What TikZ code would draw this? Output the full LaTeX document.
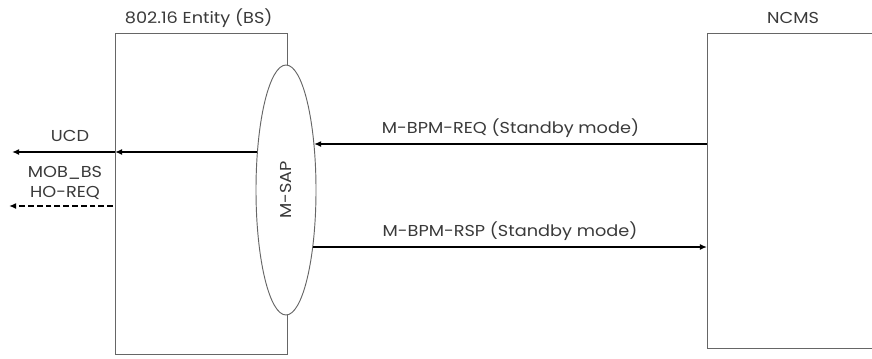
\documentclass[tikz,border=0pt]{standalone}
\usepackage{fontspec}
\setmainfont[FakeStretch=1.12]{Poppins}
\usetikzlibrary{arrows.meta,positioning,shapes.geometric,calc}
\definecolor{txtgray}{HTML}{3A3A3A}
\definecolor{boxgray}{HTML}{666666}
\tikzset{
	entity/.style={draw=boxgray,line width=0.8pt,rectangle,inner sep=0pt,outer sep=0pt},
	sap/.style={ellipse,draw=boxgray,line width=0.8pt,fill=white,inner sep=0pt,outer sep=0pt},
	lbl/.style={text=txtgray,font=\fontsize{13.5}{17}\selectfont,inner sep=1pt},
	msg/.style={draw=black,line width=1.4pt,-{Latex[length=6pt,width=5pt]}},
	msgdash/.style={msg,dash pattern=on 5pt off 2.5pt}
}

\begin{document}
\begin{tikzpicture}[x=0.03cm,y=-0.03cm,node distance=1 and 1]
      \path[use as bounding box,clip] (0,0) rectangle (872,358);
      % the two entities
      \node [entity,minimum width=5.16cm,minimum height=9.63cm] (bs) at (201,193.5) {};
      \node [entity,minimum width=5.49cm,minimum height=9.45cm] (ncms) at (798.5,190.5) {};
      \node [lbl,above=3pt of bs.north,xshift=-2pt] (bsname) {802.16 Entity (BS)};
      \node [lbl] (ncmsname) at (793,18) {NCMS};
      % service access point
      \node [sap,minimum width=1.8cm,minimum height=7.5cm] (msap) at (286,190) {};
      \node [lbl,rotate=90] (msaplbl) at (msap.center) {M-SAP};
      % end points on the ellipse and outside
      \coordinate (sapucd) at (257.4,152);
      \coordinate (sapreq) at (314,144);
      \coordinate (saprsp) at (313,247);
      \coordinate (ucdout) at (12,152);
      \coordinate (hoout) at (9,206);
      \coordinate (hoin) at (113,206);
      % primitives
      \draw [msg] (ncms.west |- sapreq) -- node [lbl,above=4pt] (reqlbl) {M-BPM-REQ (Standby mode)} (sapreq);
      \draw [msg] (saprsp) -- node [lbl,above=4pt] (rsplbl) {M-BPM-RSP (Standby mode)} (ncms.west |- saprsp);
      \draw [msg] (sapucd) -- (bs.west |- sapucd);
      \draw [msg] (bs.west |- sapucd) -- (ucdout);
      \draw [msgdash] (hoin) -- (hoout);
      \node [lbl] (ucdlbl) at (70,136) {UCD};
      \node [lbl,align=center] (holbl) at (65,183) {MOB\_BS\\HO-REQ};
   \end{tikzpicture}
\end{document}
